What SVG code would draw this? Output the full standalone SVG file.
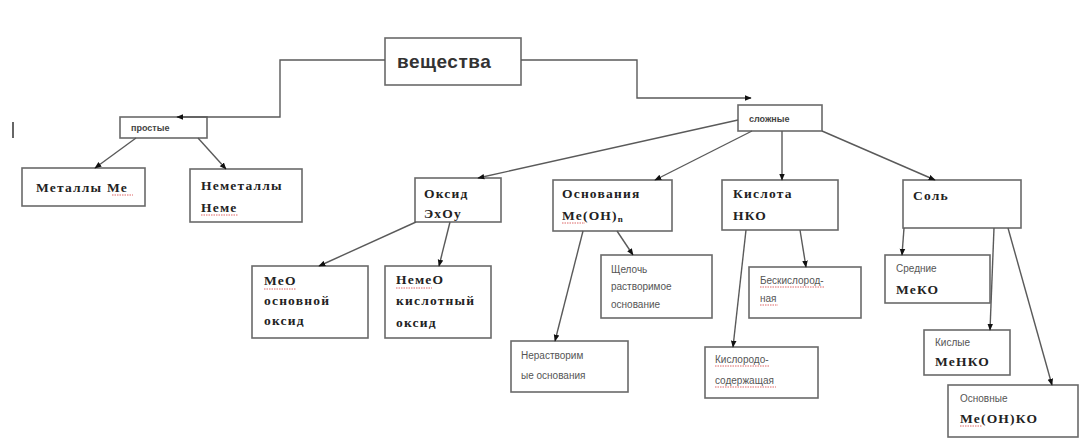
<svg xmlns="http://www.w3.org/2000/svg" width="1086" height="446" viewBox="0 0 1086 446">
<style>
.box{fill:#fff;stroke:#6a6a6a;stroke-width:1.6}
.ln{fill:none;stroke:#5a5a5a;stroke-width:1.4;marker-end:url(#ah)}
.bs{font-family:"Liberation Serif",serif;font-weight:bold;font-size:13.5px;fill:#222;letter-spacing:1.2px}
.ss{font-family:"Liberation Sans",sans-serif;font-size:10px;fill:#555}
.sm{font-family:"Liberation Sans",sans-serif;font-weight:bold;font-size:9px;fill:#444}
.ul{stroke:#d66;stroke-width:1;stroke-dasharray:1.5 1}
</style>
<defs>
<marker id="ah" viewBox="0 0 10 10" refX="9" refY="5" markerWidth="7" markerHeight="7" orient="auto" markerUnits="userSpaceOnUse">
<path d="M0,1 L10,5 L0,9 z" fill="#111"/>
</marker>
</defs>
<rect width="1086" height="446" fill="#fff"/>
<line x1="13" y1="122" x2="13" y2="138" stroke="#333" stroke-width="1.5"/>
<g id="veshchestva">
<rect class="box" x="385" y="38" width="136" height="47"/>
<text x="397" y="68" font-family="Liberation Sans, sans-serif" font-weight="bold" font-size="19" fill="#333" letter-spacing="0.5">вещества</text>
</g>
<g id="prostye">
<rect class="box" x="120" y="117" width="87" height="21"/>
<text class="sm" x="131" y="131">простые</text>
</g>
<g id="slozhnye">
<rect class="box" x="738" y="105" width="84" height="26"/>
<text class="sm" x="749" y="122">сложные</text>
</g>
<g id="metally">
<rect class="box" x="22" y="168" width="123" height="38"/>
<text class="bs" x="36" y="192">Металлы Ме</text>
<line class="ul" x1="112" y1="195" x2="133" y2="195"/>
</g>
<g id="nemetally">
<rect class="box" x="190" y="169" width="112" height="53"/>
<text class="bs" x="201" y="190">Неметаллы</text>
<text class="bs" x="201" y="212">Неме</text>
<line class="ul" x1="201" y1="215" x2="238" y2="215"/>
</g>
<g id="oksid">
<rect class="box" x="415" y="178" width="86" height="44"/>
<text class="bs" x="424" y="198">Оксид</text>
<text class="bs" x="424" y="218">ЭxOy</text>
</g>
<g id="osnovaniya">
<rect class="box" x="553" y="180" width="119" height="51"/>
<text class="bs" x="562" y="198">Основания</text>
<text class="bs" x="562" y="220">Ме(ОН)<tspan font-size="9" dy="2">n</tspan></text>
<line class="ul" x1="562" y1="223" x2="585" y2="223"/>
</g>
<g id="kislota">
<rect class="box" x="722" y="180" width="116" height="50"/>
<text class="bs" x="733" y="198">Кислота</text>
<text class="bs" x="733" y="220">НКО</text>
</g>
<g id="sol">
<rect class="box" x="903" y="180" width="118" height="48"/>
<text class="bs" x="913" y="200">Соль</text>
</g>
<g id="meo">
<rect class="box" x="252" y="266" width="116" height="72"/>
<text class="bs" x="264" y="285">МеО</text>
<text class="bs" x="264" y="305">основной</text>
<text class="bs" x="264" y="325">оксид</text>
<line class="ul" x1="264" y1="289" x2="296" y2="289"/>
</g>
<g id="nemeo">
<rect class="box" x="385" y="266" width="106" height="72"/>
<text class="bs" x="396" y="284">НемеО</text>
<text class="bs" x="396" y="305">кислотный</text>
<text class="bs" x="396" y="327">оксид</text>
<line class="ul" x1="396" y1="288" x2="432" y2="288"/>
</g>
<g id="shchelochi">
<rect class="box" x="601" y="255" width="111" height="63"/>
<text class="ss" x="611" y="273">Щелочь</text>
<text class="ss" x="611" y="290">растворимое</text>
<text class="ss" x="611" y="308">основание</text>
</g>
<g id="nerastvorimye">
<rect class="box" x="511" y="341" width="117" height="51"/>
<text class="ss" x="521" y="359">Нерастворим</text>
<text class="ss" x="521" y="379">ые основания</text>
</g>
<g id="beskislorodnye">
<rect class="box" x="749" y="267" width="112" height="51"/>
<text class="ss" x="760" y="284">Бескислород-</text>
<text class="ss" x="760" y="302">ная</text>
<line class="ul" x1="760" y1="287" x2="824" y2="287"/>
<line class="ul" x1="760" y1="305" x2="778" y2="305"/>
</g>
<g id="kislorodsoderzhashchie">
<rect class="box" x="705" y="347" width="113" height="51"/>
<text class="ss" x="715" y="363">Кислородо-</text>
<text class="ss" x="715" y="384">содержащая</text>
<line class="ul" x1="715" y1="366" x2="770" y2="366"/>
<line class="ul" x1="715" y1="387" x2="776" y2="387"/>
</g>
<g id="srednie">
<rect class="box" x="885" y="255" width="105" height="48"/>
<text class="ss" x="896" y="272">Средние</text>
<text class="bs" x="896" y="294">МеКО</text>
</g>
<g id="kislye">
<rect class="box" x="924" y="330" width="86" height="45"/>
<text class="ss" x="935" y="346">Кислые</text>
<text class="bs" x="935" y="366">МеНКО</text>
</g>
<g id="osnovnye">
<rect class="box" x="948" y="385" width="130" height="52"/>
<text class="ss" x="960" y="402">Основные</text>
<text class="bs" x="960" y="423">Ме(ОН)КО</text>
<line class="ul" x1="960" y1="426" x2="982" y2="426"/>
</g>
<g id="connectors">
<polyline class="ln" points="385,60 280,60 280,117 177,117"/>
<polyline class="ln" points="521,60 637,60 637,98 751,98"/>
<line class="ln" x1="136" y1="138" x2="95" y2="168"/>
<line class="ln" x1="198" y1="138" x2="226" y2="169"/>
<line class="ln" x1="738" y1="120" x2="478" y2="178"/>
<line class="ln" x1="752" y1="131" x2="655" y2="180"/>
<line class="ln" x1="782" y1="131" x2="782" y2="180"/>
<line class="ln" x1="822" y1="131" x2="935" y2="180"/>
<line class="ln" x1="416" y1="222" x2="319" y2="266"/>
<line class="ln" x1="450" y1="222" x2="439" y2="266"/>
<line class="ln" x1="617" y1="231" x2="633" y2="255"/>
<line class="ln" x1="583" y1="231" x2="555" y2="341"/>
<line class="ln" x1="800" y1="230" x2="806" y2="267"/>
<line class="ln" x1="746" y1="230" x2="733" y2="347"/>
<line class="ln" x1="904" y1="228" x2="902" y2="255"/>
<line class="ln" x1="994" y1="228" x2="990" y2="330"/>
<line class="ln" x1="1008" y1="228" x2="1052" y2="385"/>
</g>
</svg>
